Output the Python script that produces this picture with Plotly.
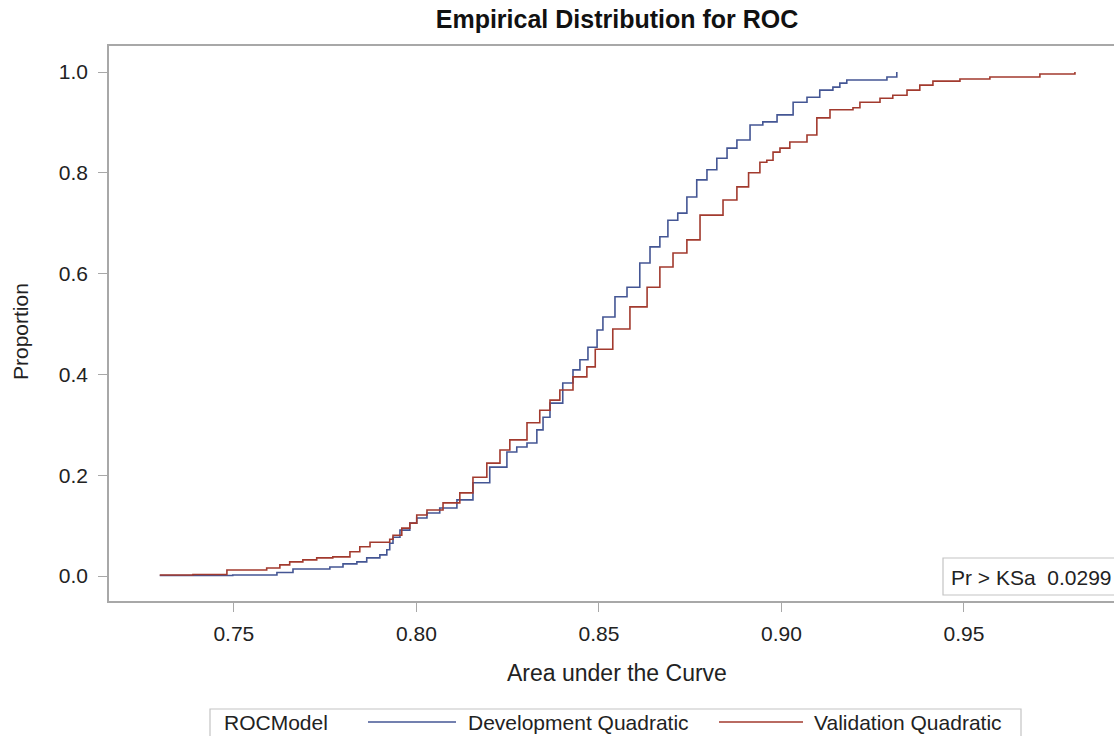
import plotly.graph_objects as go

# ---- data (empirical distribution steps) ----
dev_auc = [0.7297, 0.7497, 0.7618, 0.7662, 0.7763, 0.7799, 0.7837, 0.7864, 0.7900, 0.7919,
           0.7927, 0.7936, 0.7955, 0.7982, 0.8001, 0.8029, 0.8064, 0.8111, 0.8155, 0.8201,
           0.8248, 0.8275, 0.8303, 0.8330, 0.8347, 0.8366, 0.8401, 0.8429, 0.8448, 0.8470,
           0.8495, 0.8511, 0.8544, 0.8577, 0.8612, 0.8640, 0.8667, 0.8689, 0.8716, 0.8741,
           0.8768, 0.8796, 0.8823, 0.8851, 0.8878, 0.8914, 0.8949, 0.8988, 0.9032, 0.9070,
           0.9105, 0.9141, 0.9160, 0.9179, 0.9270, 0.9289, 0.9316]
dev_prop = [0.001, 0.002, 0.007, 0.014, 0.018, 0.024, 0.028, 0.036, 0.042, 0.052,
            0.065, 0.077, 0.091, 0.105, 0.115, 0.125, 0.135, 0.151, 0.185, 0.216,
            0.246, 0.256, 0.264, 0.290, 0.315, 0.343, 0.383, 0.409, 0.429, 0.454,
            0.488, 0.514, 0.554, 0.573, 0.621, 0.653, 0.673, 0.706, 0.720, 0.752,
            0.786, 0.806, 0.829, 0.849, 0.865, 0.895, 0.901, 0.915, 0.940, 0.950,
            0.964, 0.970, 0.978, 0.984, 0.984, 0.990, 1.000]

val_auc = [0.7297, 0.7388, 0.7481, 0.7590, 0.7626, 0.7653, 0.7689, 0.7727, 0.7771, 0.7818,
           0.7845, 0.7873, 0.7927, 0.7936, 0.7960, 0.7982, 0.8001, 0.8029, 0.8073, 0.8119,
           0.8155, 0.8193, 0.8229, 0.8256, 0.8303, 0.8338, 0.8366, 0.8393, 0.8429, 0.8467,
           0.8490, 0.8538, 0.8585, 0.8632, 0.8667, 0.8703, 0.8741, 0.8777, 0.8812, 0.8840,
           0.8878, 0.8910, 0.8941, 0.8960, 0.8977, 0.8996, 0.9023, 0.9070, 0.9097, 0.9133,
           0.9196, 0.9215, 0.9270, 0.9305, 0.9344, 0.9379, 0.9415, 0.9489, 0.9571, 0.9708,
           0.9804]
val_prop = [0.002, 0.003, 0.012, 0.016, 0.022, 0.028, 0.032, 0.036, 0.038, 0.048,
            0.058, 0.067, 0.073, 0.081, 0.095, 0.105, 0.121, 0.131, 0.145, 0.165,
            0.196, 0.224, 0.250, 0.270, 0.304, 0.329, 0.349, 0.369, 0.395, 0.415,
            0.450, 0.490, 0.534, 0.573, 0.613, 0.641, 0.667, 0.716, 0.716, 0.746,
            0.772, 0.800, 0.821, 0.825, 0.841, 0.849, 0.861, 0.875, 0.909, 0.925,
            0.929, 0.940, 0.948, 0.954, 0.964, 0.974, 0.982, 0.986, 0.990, 0.996,
            1.000]

series_names = ["Development Quadratic", "Validation Quadratic"]
series_colors = ["#445694", "#A23A2E"]
x_ticks = [0.75, 0.80, 0.85, 0.90, 0.95]
y_ticks = [0.0, 0.2, 0.4, 0.6, 0.8, 1.0]
ks_text = "Pr > KSa\u00a0\u00a00.0299"

# ---- layout geometry (pixels) ----
W, H = 1114, 736
ML, MR, MT, MB = 109, 0, 46, 135
PW, PH = W - ML - MR, H - MT - MB
FONT = "Liberation Sans, Arial, sans-serif"
TXT = "#222222"
AX = "#a8a8a8"


def px(x):
    return (x - ML) / PW


def py(y):
    return (MT + PH - y) / PH


fig = go.Figure()
fig.add_trace(go.Scatter(x=dev_auc, y=dev_prop, mode="lines", name=series_names[0],
                         line=dict(color=series_colors[0], width=1.6, shape="hv"),
                         showlegend=False))
fig.add_trace(go.Scatter(x=val_auc, y=val_prop, mode="lines", name=series_names[1],
                         line=dict(color=series_colors[1], width=1.6, shape="hv"),
                         showlegend=False))

fig.update_layout(
    width=W, height=H,
    margin=dict(l=ML, r=MR, t=MT, b=MB, pad=0),
    paper_bgcolor="white", plot_bgcolor="white",
    font=dict(family=FONT, size=21, color=TXT),
    title=dict(text="<b>Empirical Distribution for ROC</b>", x=px(617), xref="paper",
               xanchor="center", y=1 - 19 / H, yref="container", yanchor="middle",
               font=dict(family=FONT, size=25, color="#111111")),
    xaxis=dict(range=[0.7158, 0.9911], tickvals=x_ticks, tickformat=".2f",
               showgrid=False, zeroline=False, showline=True, linecolor=AX, linewidth=1.5,
               mirror=True, ticks="outside", ticklen=9, tickcolor=AX, tickwidth=1.2,
               tickfont=dict(family=FONT, size=21, color=TXT), ticklabelstandoff=4),
    yaxis=dict(range=[-0.0496, 1.0516], tickvals=y_ticks, tickformat=".1f",
               showgrid=False, zeroline=False, showline=True, linecolor=AX, linewidth=1.5,
               mirror=False, ticks="outside", ticklen=9, tickcolor=AX, tickwidth=1.2,
               tickfont=dict(family=FONT, size=21, color=TXT), ticklabelstandoff=6),
    showlegend=False,
)

annots = []
shapes = []
# axis titles
annots.append(dict(text="Area under the Curve", x=px(617), y=py(673), xref="paper", yref="paper",
                   xanchor="center", yanchor="middle", showarrow=False,
                   font=dict(family=FONT, size=23, color=TXT)))
annots.append(dict(text="Proportion", x=px(20), y=py(332), xref="paper", yref="paper",
                   xanchor="center", yanchor="middle", showarrow=False, textangle=-90,
                   font=dict(family=FONT, size=21, color=TXT)))
# KS inset
shapes.append(dict(type="rect", xref="paper", yref="paper", x0=px(943), x1=px(1130),
                   y0=py(595), y1=py(558), line=dict(color="#c4c4c4", width=1.2),
                   fillcolor="white", layer="above"))
annots.append(dict(text=ks_text, x=px(949), y=py(577), xref="paper", yref="paper",
                   xanchor="left", yanchor="middle", showarrow=False,
                   font=dict(family=FONT, size=21, color=TXT)))
# legend (drawn)
shapes.append(dict(type="rect", xref="paper", yref="paper", x0=px(210), x1=px(1021),
                   y0=py(750), y1=py(709), line=dict(color="#c4c4c4", width=1.2),
                   fillcolor="white"))
annots.append(dict(text="ROCModel", x=px(222), y=py(722), xref="paper", yref="paper",
                   xanchor="left", yanchor="middle", showarrow=False,
                   font=dict(family=FONT, size=21, color=TXT)))
leg_items = [(368, 456, 466), (719, 803, 812)]
for (lx0, lx1, tx), name, col in zip(leg_items, series_names, series_colors):
    shapes.append(dict(type="line", xref="paper", yref="paper", x0=px(lx0), x1=px(lx1),
                       y0=py(722), y1=py(722), line=dict(color=col, width=1.6)))
    annots.append(dict(text=name, x=px(tx), y=py(722), xref="paper", yref="paper",
                       xanchor="left", yanchor="middle", showarrow=False,
                       font=dict(family=FONT, size=21, color=TXT)))

fig.update_layout(annotations=annots, shapes=shapes)
fig.write_html("out.html")
